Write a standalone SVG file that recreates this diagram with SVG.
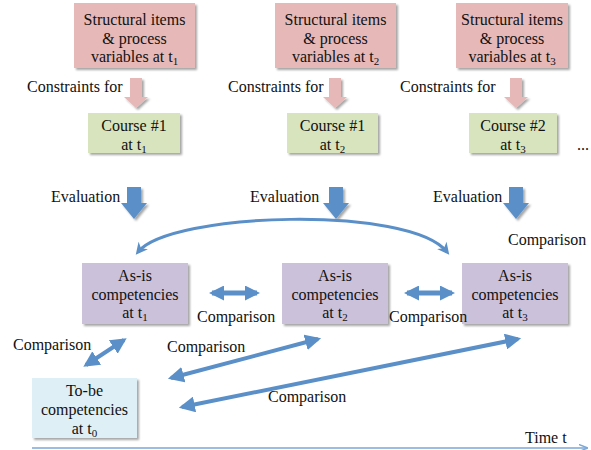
<svg xmlns="http://www.w3.org/2000/svg" width="591" height="450" viewBox="0 0 591 450" font-family="'Liberation Serif', 'Times New Roman', 'DejaVu Serif', serif">
<defs>
<filter id="sh" x="-10%" y="-10%" width="125%" height="130%">
<feDropShadow dx="2" dy="2" stdDeviation="1.2" flood-color="#000" flood-opacity="0.35"/>
</filter>
<marker id="ah" viewBox="0 0 10 10" refX="8" refY="5" markerWidth="4" markerHeight="4" orient="auto-start-reverse">
<path d="M0,0 L10,5 L0,10 z" fill="#5A8FC8"/>
</marker>
<marker id="ahs" viewBox="0 0 10 10" refX="8" refY="5" markerWidth="3" markerHeight="3" orient="auto-start-reverse">
<path d="M0,0 L10,5 L0,10 z" fill="#5A8FC8"/>
</marker>
<marker id="ahc" viewBox="0 0 10 10" refX="7" refY="5" markerWidth="4" markerHeight="4" orient="auto-start-reverse">
<path d="M0,0 L10,5 L0,10 L3,5 z" fill="#5A8FC8"/>
</marker>
<marker id="aht" viewBox="0 0 10 10" refX="8" refY="5" markerWidth="6" markerHeight="6" orient="auto">
<path d="M0,1 L10,5 L0,9" fill="none" stroke="#7BA7D7" stroke-width="1.5"/>
</marker>
</defs>
<style>
text{font-family:'Liberation Serif','Times New Roman','DejaVu Serif',serif;font-size:16px;fill:#111}
.c{text-anchor:middle}
.pink{fill:#E6B9B8;filter:url(#sh)}
.green{fill:#D7E4BD;filter:url(#sh)}
.lav{fill:#CCC1DA;filter:url(#sh)}
.lblue{fill:#DEEFF5;filter:url(#sh)}
.parrow{fill:#E6B9B8;filter:url(#sh)}
.barrow{fill:#5A8FC8;filter:url(#sh)}
.dbl{stroke:#5A8FC8;fill:none}
.sub{font-size:11px}
</style>

<g id="struct1"><rect class="pink" x="74" y="3" width="121" height="65"/>
<text class="c" x="134.5" y="25">Structural items</text><text class="c" x="134.5" y="44">&amp;  process</text><text class="c" x="134.5" y="62">variables at t<tspan class="sub" dy="3">1</tspan></text></g>
<g id="struct2"><rect class="pink" x="275" y="3" width="121" height="65"/>
<text class="c" x="335.5" y="25">Structural items</text><text class="c" x="335.5" y="44">&amp;  process</text><text class="c" x="335.5" y="62">variables at t<tspan class="sub" dy="3">2</tspan></text></g>
<g id="struct3"><rect class="pink" x="456" y="3" width="112" height="65"/>
<text class="c" x="512" y="25">Structural items</text><text class="c" x="512" y="44">&amp;  process</text><text class="c" x="512" y="62">variables at t<tspan class="sub" dy="3">3</tspan></text></g>

<g id="constr1"><path class="parrow" d="M130,78 H142 V97 H148 L136,108 L124,97 H130 Z"/><text x="27" y="92">Constraints for</text></g>
<g id="constr2"><path class="parrow" d="M329,78 H341 V97 H347 L335,108 L323,97 H329 Z"/><text x="228" y="92">Constraints for</text></g>
<g id="constr3"><path class="parrow" d="M510,78 H522 V97 H528 L516,108 L504,97 H510 Z"/><text x="400" y="92">Constraints for</text></g>

<g id="course1"><rect class="green" x="88" y="113" width="92" height="40"/>
<text class="c" x="134" y="131">Course #1</text><text class="c" x="134" y="150">at t<tspan class="sub" dy="3">1</tspan></text></g>
<g id="course2"><rect class="green" x="287" y="113" width="91" height="40"/>
<text class="c" x="332.5" y="131">Course #1</text><text class="c" x="332.5" y="150">at t<tspan class="sub" dy="3">2</tspan></text></g>
<g id="course3"><rect class="green" x="469" y="113" width="88" height="40"/>
<text class="c" x="513" y="131">Course #2</text><text class="c" x="513" y="150">at t<tspan class="sub" dy="3">3</tspan></text></g>
<text x="577" y="150">...</text>

<g id="eval1"><path class="barrow" d="M127,187 H141 V203 H147 L134,219 L121,203 H127 Z"/><text x="51" y="202">Evaluation</text></g>
<g id="eval2"><path class="barrow" d="M329,187 H343 V203 H349 L336,219 L323,203 H329 Z"/><text x="250" y="202">Evaluation</text></g>
<g id="eval3"><path class="barrow" d="M509,187 H523 V203 H529 L516,219 L503,203 H509 Z"/><text x="433" y="202">Evaluation</text></g>

<g id="asis1"><rect class="lav" x="82" y="263" width="106" height="61"/>
<text class="c" x="135" y="281">As-is</text><text class="c" x="135" y="300">competencies</text><text class="c" x="135" y="318">at t<tspan class="sub" dy="3">1</tspan></text></g>
<g id="asis2"><rect class="lav" x="282" y="263" width="106" height="61"/>
<text class="c" x="335" y="281">As-is</text><text class="c" x="335" y="300">competencies</text><text class="c" x="335" y="318">at t<tspan class="sub" dy="3">2</tspan></text></g>
<g id="asis3"><rect class="lav" x="462" y="263" width="106" height="61"/>
<text class="c" x="515" y="281">As-is</text><text class="c" x="515" y="300">competencies</text><text class="c" x="515" y="318">at t<tspan class="sub" dy="3">3</tspan></text></g>

<g id="tobe"><rect class="lblue" x="32" y="378" width="105" height="60"/>
<text class="c" x="84.5" y="396">To-be</text><text class="c" x="84.5" y="415">competencies</text><text class="c" x="84.5" y="434">at t<tspan class="sub" dy="3">0</tspan></text></g>

<g id="connectors">
<path class="dbl" d="M138,252 C170,212 410,205 447,252" stroke-width="3" marker-start="url(#ahc)" marker-end="url(#ahc)"/>
<path class="dbl" d="M212,293 H257" stroke-width="5" marker-start="url(#ahs)" marker-end="url(#ahs)"/>
<path class="dbl" d="M407,293 H452" stroke-width="5" marker-start="url(#ahs)" marker-end="url(#ahs)"/>
<path class="dbl" d="M86,365 L124,340" stroke-width="4" marker-start="url(#ah)" marker-end="url(#ah)"/>
<path class="dbl" d="M171,378 L318,339" stroke-width="4" marker-start="url(#ah)" marker-end="url(#ah)"/>
<path class="dbl" d="M182,407 L518,339" stroke-width="4" marker-start="url(#ah)" marker-end="url(#ah)"/>
<path d="M32,448 H586" stroke="#7BA7D7" stroke-width="1.5" fill="none" marker-end="url(#aht)"/>
</g>

<g id="labels">
<text x="197" y="322">Comparison</text>
<text x="389" y="322">Comparison</text>
<text x="508" y="245">Comparison</text>
<text x="13" y="350">Comparison</text>
<text x="167" y="352">Comparison</text>
<text x="268" y="402">Comparison</text>
<text x="525" y="443">Time t</text>
</g>
</svg>
